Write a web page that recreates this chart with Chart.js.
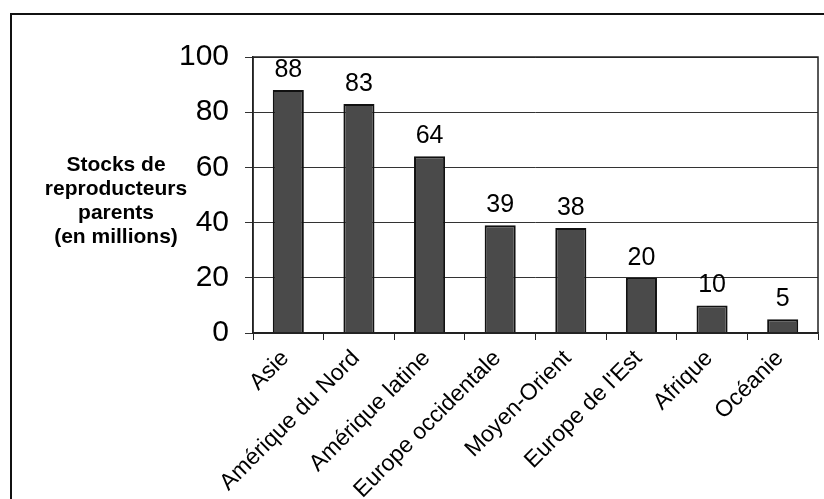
<!DOCTYPE html>
<html>
<head>
<meta charset="utf-8">
<script src="https://cdn.jsdelivr.net/npm/chart.js@4.4.1/dist/chart.umd.min.js"></script>
<style>
  html, body { margin: 0; padding: 0; background: #fff; }
  #wrap { width: 824px; height: 499px; position: relative; }
</style>
</head>
<body>
<div id="wrap"><canvas id="barChart" width="824" height="499"></canvas></div>
<script>
// Stocks de reproducteurs parents par région (en millions)
const regions = ['Asie', 'Amérique du Nord', 'Amérique latine', 'Europe occidentale',
    'Moyen-Orient', "Europe de l'Est", 'Afrique', 'Océanie'];
const stocks = [88, 83, 64, 39, 38, 20, 10, 5];
const yTicks = [0, 20, 40, 60, 80, 100];
const yTitle = ['Stocks de', 'reproducteurs', 'parents', '(en millions)'];

const FONT = '"Liberation Sans", Arial, sans-serif';

// cadre extérieur + bord du graphique + titre horizontal de l'axe Y
const decorations = {
    id: 'decorations',
    beforeDraw(chart) {
        const ctx = chart.ctx;
        ctx.save();
        ctx.fillStyle = '#fff';
        ctx.fillRect(0, 0, chart.width, chart.height);
        ctx.strokeStyle = '#111';
        ctx.lineWidth = 2;
        ctx.strokeRect(11, 14, 830, 520);
        ctx.restore();
    },
    afterDraw(chart) {
        const ctx = chart.ctx;
        const a = chart.chartArea;
        ctx.save();
        ctx.strokeStyle = '#222';
        ctx.lineWidth = 1.5;
        ctx.strokeRect(a.left, a.top, a.right - a.left, a.bottom - a.top);
        ctx.fillStyle = '#000';
        ctx.font = 'bold 21px ' + FONT;
        ctx.textAlign = 'center';
        ctx.textBaseline = 'middle';
        yTitle.forEach((line, i) => {
            ctx.fillText(line, 116, 165 + i * 24);
        });
        // valeurs au-dessus des barres
        const meta = chart.getDatasetMeta(0);
        ctx.font = '25px ' + FONT;
        ctx.textBaseline = 'alphabetic';
        meta.data.forEach((bar, i) => {
            ctx.fillText(String(stocks[i]), bar.x, bar.y - 13);
        });
        ctx.restore();
    }
};

document.addEventListener('DOMContentLoaded', function() {
    new Chart(document.getElementById('barChart').getContext('2d'), {
        type: 'bar',
        data: {
            labels: regions,
            datasets: [{
                data: stocks,
                backgroundColor: '#4a4a4a',
                borderColor: '#111',
                borderWidth: 2,
                barPercentage: 0.44,
                categoryPercentage: 1
            }]
        },
        options: {
            responsive: false,
            animation: false,
            layout: { padding: { top: 57, right: 6, left: 0, bottom: 0 } },
            plugins: {
                legend: { display: false },
                tooltip: { enabled: false }
            },
            scales: {
                x: {
                    grid: {
                        offset: true,
                        drawOnChartArea: false,
                        drawTicks: true,
                        tickLength: 7,
                        color: '#222'
                    },
                    border: { color: '#222', width: 1.5 },
                    ticks: {
                        color: '#000',
                        font: { family: FONT, size: 23 },
                        minRotation: 45,
                        maxRotation: 45,
                        padding: 5,
                        labelOffset: -3
                    },
                    afterFit(scale) { scale.height = 499 - 333; }
                },
                y: {
                    min: 0,
                    max: 100,
                    afterBuildTicks(scale) {
                        scale.ticks = yTicks.map(v => ({ value: v }));
                    },
                    grid: {
                        color: '#333',
                        lineWidth: 1,
                        drawTicks: true,
                        tickLength: 8
                    },
                    border: { color: '#222', width: 1.5 },
                    ticks: {
                        color: '#000',
                        font: { family: FONT, size: 30 },
                        padding: 16
                    },
                    afterFit(scale) { scale.width = 253; }
                }
            }
        },
        plugins: [decorations]
    });
});
</script>
</body>
</html>
